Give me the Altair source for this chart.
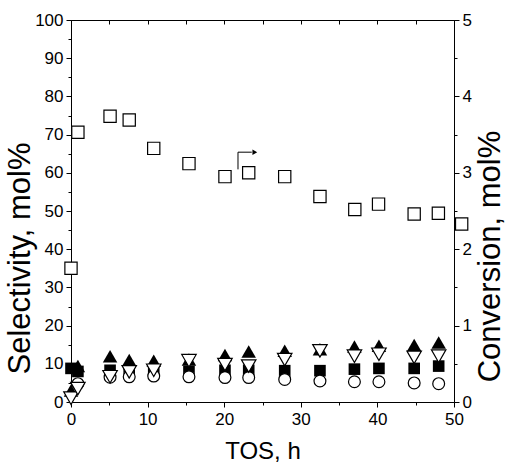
import altair as alt
import pandas as pd

# ---- data ----
tos = [0, 0.9, 5.1, 7.6, 10.8, 15.4, 20.1, 23.2, 27.9, 32.5, 37.0, 40.2, 44.8, 48.0]
sel_filled_tri = [3.0, 9.4, 12.0, 11.0, 10.8, 11.1, 12.3, 13.2, 13.4, 13.8, 14.5, 14.7, 14.9, 15.6]
sel_filled_sq = [8.8, 8.0, 8.3, 8.0, 8.0, 8.0, 8.3, 8.3, 8.2, 8.2, 8.6, 8.8, 8.8, 9.4]
sel_open_circle = [None, 4.8, 6.5, 6.6, 6.8, 6.6, 6.4, 6.4, 5.9, 5.5, 5.3, 5.3, 5.0, 4.8]
sel_open_tri_down = [1.0, 3.5, 6.6, 7.9, 8.3, 10.8, 9.8, 9.4, 11.1, 13.4, 12.0, 12.5, 11.7, 12.0]

conv_tos = [0, 0.9, 5.1, 7.6, 10.8, 15.4, 20.1, 23.2, 27.9, 32.5, 37.05, 40.15, 44.8, 47.96, 51.0]
conversion = [1.75, 3.53, 3.74, 3.69, 3.32, 3.12, 2.95, 3.0, 2.95, 2.69, 2.52, 2.59, 2.46, 2.47, 2.33]

# arrow annotation (data coordinates: TOS, selectivity)
arrow_x = [21.8, 23.6]
arrow_y = [60.9, 65.4]
arrow_head_x = [24.0]

FONT = "Liberation Sans"

sel_df = pd.DataFrame({
    "tos": tos,
    "tri": sel_filled_tri,
    "sq": sel_filled_sq,
    "circ": sel_open_circle,
    "tdown": sel_open_tri_down,
})
conv_df = pd.DataFrame({"tos": conv_tos, "conv": conversion})
arrow_v = pd.DataFrame({"x": [arrow_x[0]], "y": [arrow_y[0]], "y2": [arrow_y[1]]})
arrow_h = pd.DataFrame({"x": [arrow_x[0]], "x2": [arrow_x[1]], "y": [arrow_y[1]]})
arrow_hd = pd.DataFrame({"x": arrow_head_x, "y": [arrow_y[1]]})

xscale = alt.Scale(domain=[0, 50], nice=False, zero=False)
yscale = alt.Scale(domain=[0, 100], nice=False)
y2scale = alt.Scale(domain=[0, 5], nice=False)

axis_common = dict(
    labelFont=FONT, titleFont=FONT, labelFontSize=17,
    titleFontWeight="normal", labelColor="black", titleColor="black",
    domainColor="black", tickColor="black", grid=False, labelFlush=False,
    labelOverlap=False,
)

bottom_axis = alt.Axis(
    orient="bottom", title="TOS, h", values=list(range(0, 51, 5)),
    labelExpr="datum.value % 10 === 0 ? datum.label : ''",
    tickSize={"condition": {"test": "datum.value % 10 === 0", "value": 5}, "value": 3},
    labelPadding=4, titlePadding=12, titleFontSize=24, **axis_common,
)
top_axis = alt.Axis(
    orient="top", title=None, labels=False, domain=False,
    values=list(range(0, 51, 5)), tickSize=4, offset=-4,
    tickColor="black", grid=False,
)
left_axis = alt.Axis(
    orient="left", title="Selectivity, mol%", values=list(range(0, 101, 5)),
    labelExpr="datum.value % 10 === 0 ? datum.label : ''",
    tickSize={"condition": {"test": "datum.value % 10 === 0", "value": 5}, "value": 3},
    labelPadding=3, titleFontSize=31, titleAngle=270, titleBaseline="middle",
    titleAlign="center", titleX=-51, titleY=238, **axis_common,
)
right_axis = alt.Axis(
    orient="right", title="Conversion, mol%",
    values=[v / 2 for v in range(0, 11)],
    labelExpr="datum.value % 1 === 0 ? format(datum.value, 'd') : ''",
    tickSize={"condition": {"test": "datum.value % 1 === 0", "value": 5}, "value": 3},
    labelPadding=3, titleFontSize=31, titleAngle=270, titleBaseline="middle",
    titleAlign="center", titleX=36, titleY=236, **axis_common,
)

X = alt.X("tos:Q", scale=xscale, axis=bottom_axis)

tri_up = alt.Chart(sel_df).mark_point(
    shape="triangle-up", filled=True, color="black", size=210, opacity=1
).encode(x=X, y=alt.Y("tri:Q", scale=yscale, axis=left_axis))

sq = alt.Chart(sel_df).mark_point(
    shape="square", filled=True, color="black", size=135, opacity=1
).encode(x=X, y=alt.Y("sq:Q", scale=yscale, axis=left_axis))

circ = alt.Chart(sel_df).mark_point(
    shape="circle", filled=False, fill="white", stroke="black", strokeWidth=1.2,
    size=140, opacity=1, fillOpacity=1
).encode(x=X, y=alt.Y("circ:Q", scale=yscale, axis=left_axis))

tdown = alt.Chart(sel_df).mark_point(
    shape="triangle-down", filled=False, fill="white", stroke="black", strokeWidth=1.2,
    size=210, opacity=1, fillOpacity=1
).encode(x=X, y=alt.Y("tdown:Q", scale=yscale, axis=left_axis))

av = alt.Chart(arrow_v).mark_rule(color="black", strokeWidth=1).encode(
    x=alt.X("x:Q", scale=xscale, axis=bottom_axis),
    y=alt.Y("y:Q", scale=yscale, axis=left_axis), y2="y2:Q")
ah = alt.Chart(arrow_h).mark_rule(color="black", strokeWidth=1).encode(
    x=alt.X("x:Q", scale=xscale, axis=bottom_axis), x2="x2:Q",
    y=alt.Y("y:Q", scale=yscale, axis=left_axis))
ahd = alt.Chart(arrow_hd).mark_point(
    shape="triangle-right", filled=True, color="black", size=30, opacity=1
).encode(x=alt.X("x:Q", scale=xscale, axis=bottom_axis),
         y=alt.Y("y:Q", scale=yscale, axis=left_axis))

sel_group = alt.layer(tri_up, sq, circ, tdown, av, ah, ahd)

conv = alt.Chart(conv_df).mark_point(
    shape="square", filled=False, fill="white", stroke="black", strokeWidth=1.2,
    size=150, opacity=1, fillOpacity=1
).encode(
    x=alt.X("tos:Q", scale=xscale, axis=top_axis),
    y=alt.Y("conv:Q", scale=y2scale, axis=right_axis),
)

chart = alt.layer(sel_group, conv).resolve_scale(y="independent").resolve_axis(
    x="independent", y="independent"
).properties(
    width=383, height=382,
    autosize=alt.AutoSizeParams(type="none"),
    padding={"left": 71, "top": 20, "right": 53, "bottom": 65},
    background="white",
).configure_view(stroke="black", strokeWidth=1)

chart.save("out.html", embed_options={"renderer": "svg", "actions": False})
